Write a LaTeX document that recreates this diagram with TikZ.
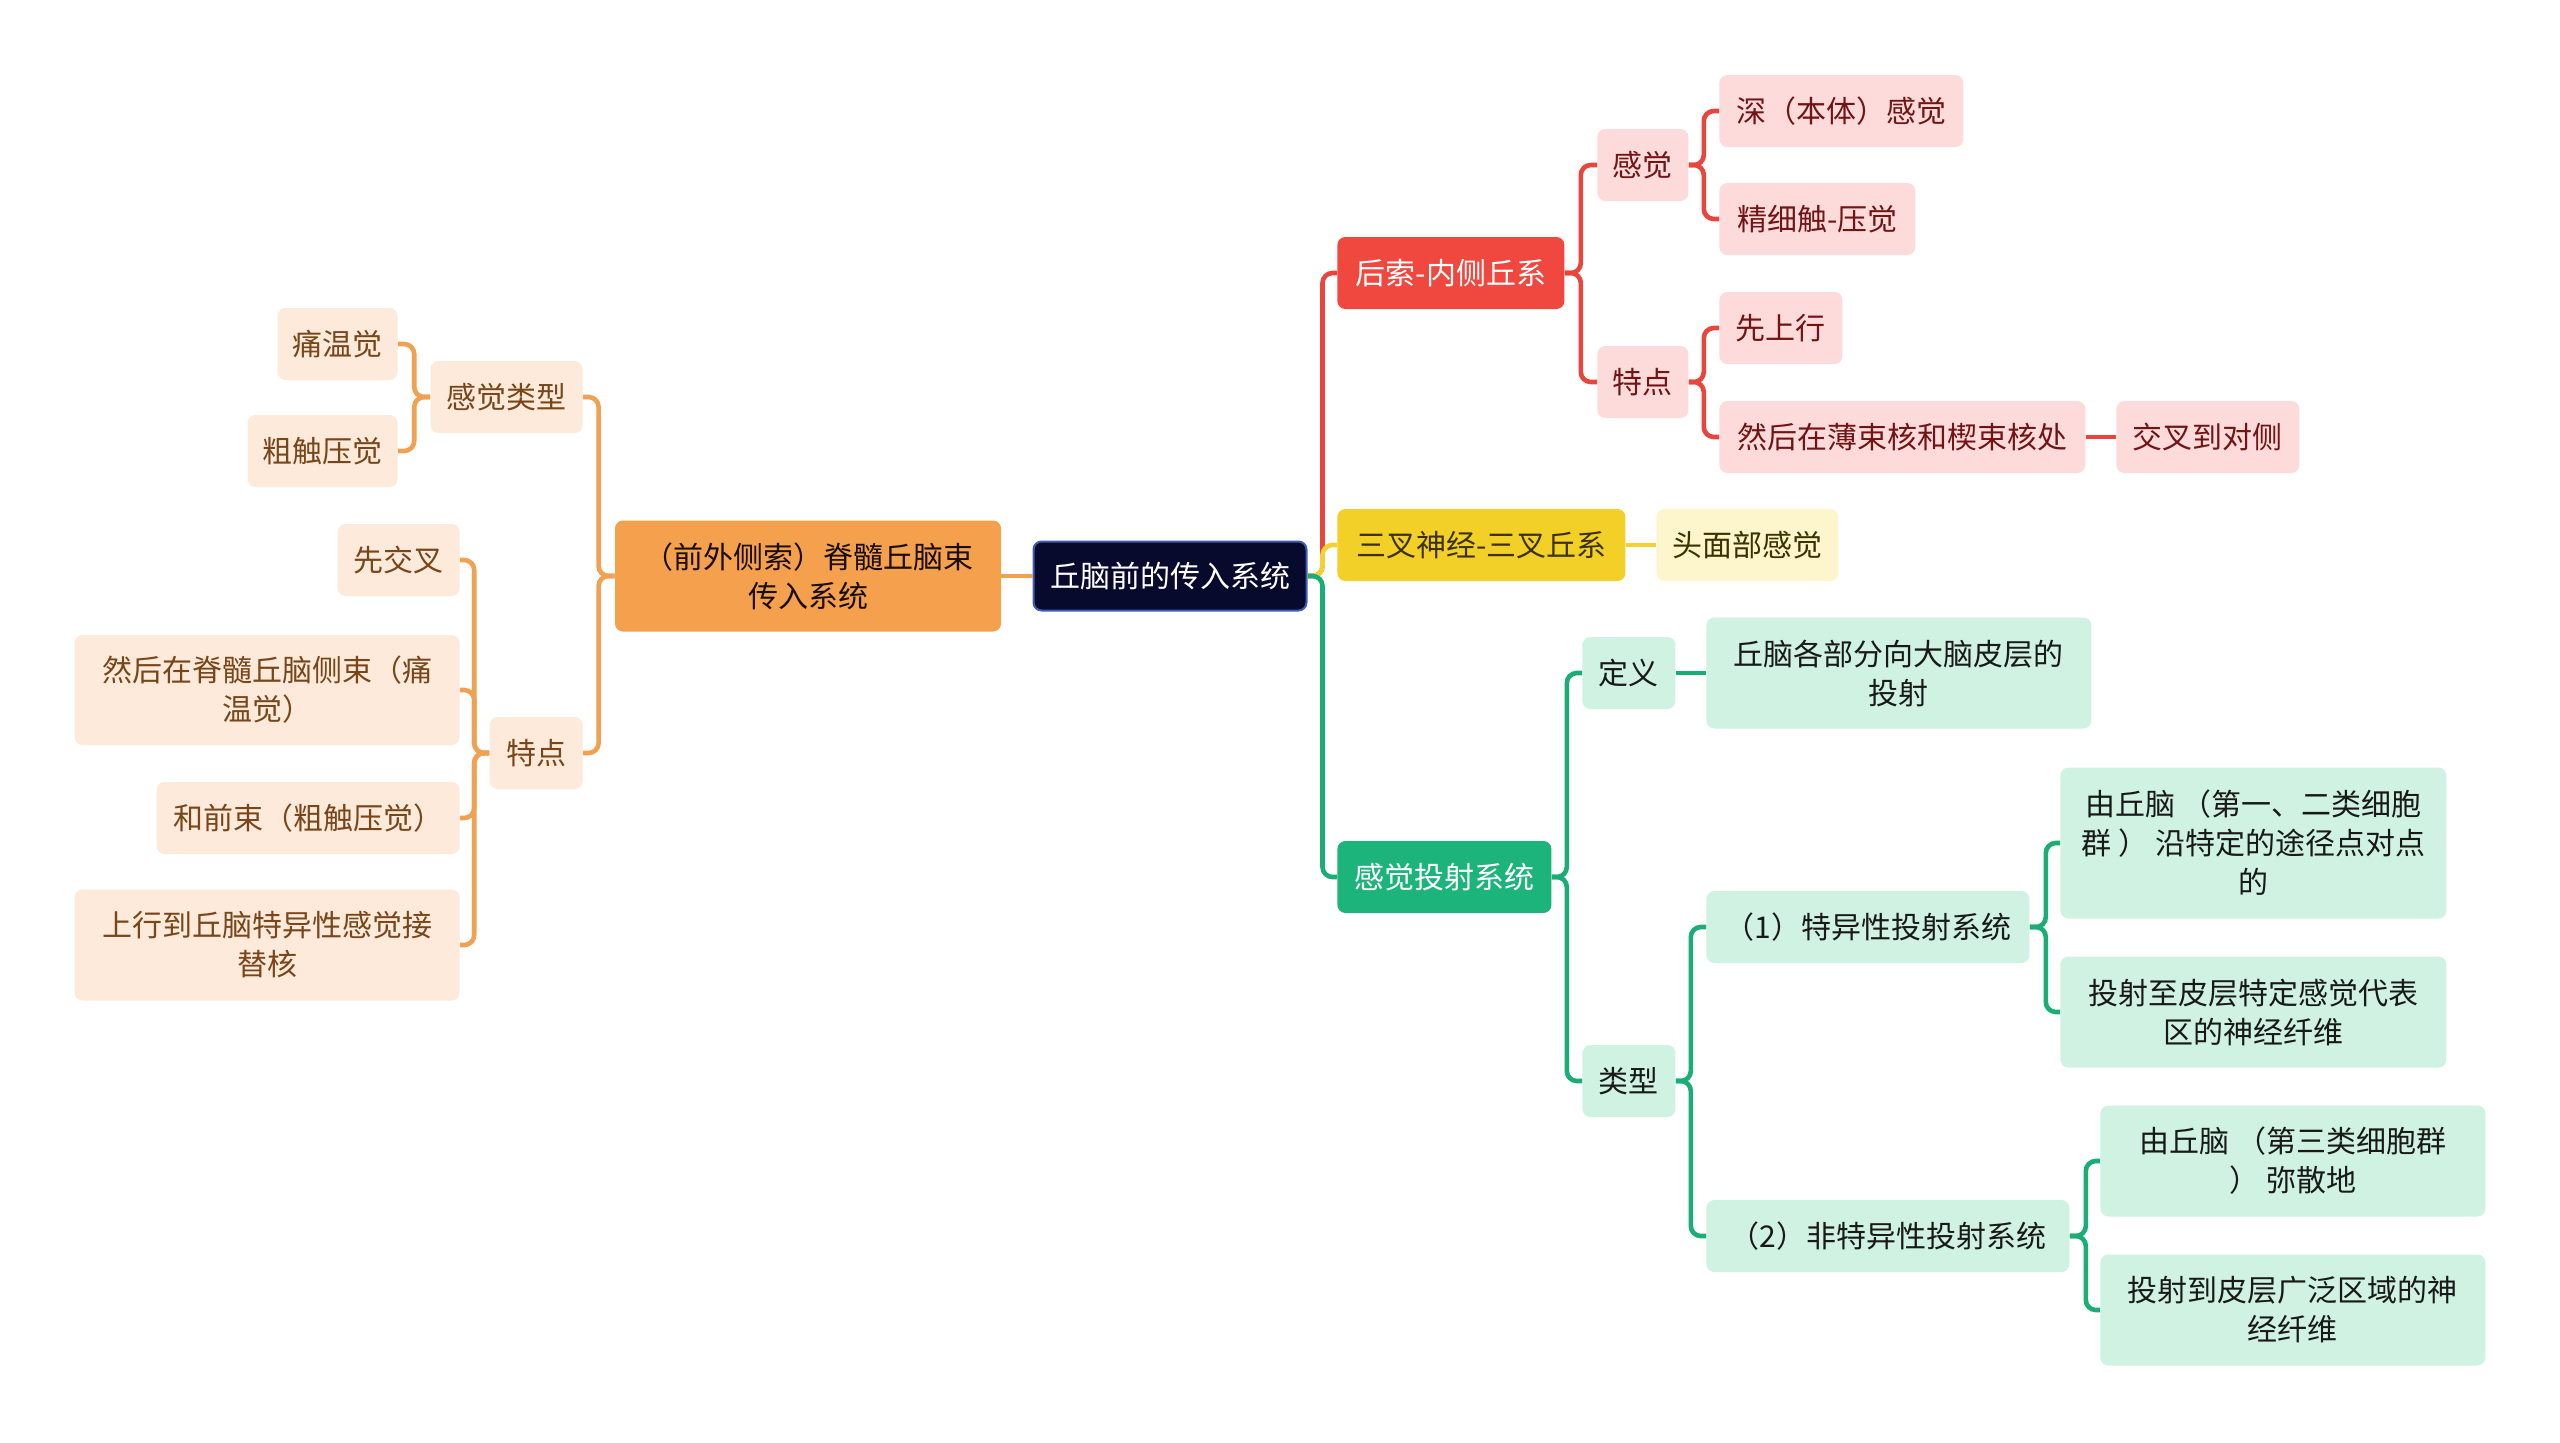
\documentclass[tikz,border=0pt]{standalone}
\usepackage{fontspec}
\newfontfamily\cjk{Noto Sans CJK SC}
\definecolor{navy}{RGB}{8,10,45}
\definecolor{navyb}{RGB}{60,95,180}
\definecolor{orgM}{RGB}{245,160,76}
\definecolor{orgL}{RGB}{253,234,218}
\definecolor{orgT}{RGB}{120,70,25}
\definecolor{orgLine}{RGB}{240,162,82}
\definecolor{redM}{RGB}{240,72,62}
\definecolor{redL}{RGB}{253,219,219}
\definecolor{redT}{RGB}{115,20,20}
\definecolor{redLine}{RGB}{232,70,60}
\definecolor{yelM}{RGB}{242,208,40}
\definecolor{yelL}{RGB}{253,246,204}
\definecolor{yelT}{RGB}{60,50,0}
\definecolor{yelLine}{RGB}{240,210,50}
\definecolor{grnM}{RGB}{28,180,122}
\definecolor{grnL}{RGB}{207,242,226}
\definecolor{grnT}{RGB}{25,25,25}
\definecolor{grnLine}{RGB}{26,174,118}
\begin{document}
\begin{tikzpicture}[x=0.5pt,y=-0.5pt,
  nd/.style={rounded corners=4pt, inner sep=0pt, align=center,
    font=\cjk\fontsize{15}{19.5}\selectfont, minimum height=36pt},
  cen/.style={nd, fill=navy, draw=navyb, line width=1pt, text=white},
  om/.style={nd, fill=orgM, text=black!80!orgT},
  ol/.style={nd, fill=orgL, text=orgT},
  rm/.style={nd, fill=redM, text=white},
  rl/.style={nd, fill=redL, text=redT},
  ym/.style={nd, fill=yelM, text=yelT},
  yl/.style={nd, fill=yelL, text=yelT},
  gm/.style={nd, fill=grnM, text=white},
  gl/.style={nd, fill=grnL, text=grnT},
  ln/.style={line width=2.3pt, rounded corners=5pt},
]
\useasboundingbox (0,0) rectangle (2560,1442);
\fill[white] (0,0) rectangle (2560,1442);

% center
\node[cen, minimum width=136.5pt, minimum height=34.5pt] (c) at (1170,576) {丘脑前的传入系统};

% left side
\node[om, minimum width=193pt, minimum height=55.5pt] (o) at (808,576) {（前外侧索）脊髓丘脑束\\传入系统};
\node[ol, anchor=east, minimum width=76pt] (ot) at (583,397) {感觉类型};
\node[ol, anchor=east, minimum width=46.5pt] (of) at (583,753) {特点};
\node[ol, anchor=east, minimum width=60pt] (ot1) at (398,344) {痛温觉};
\node[ol, anchor=east, minimum width=75pt] (ot2) at (398,451) {粗触压觉};
\node[ol, anchor=east, minimum width=61pt] (of1) at (460,560) {先交叉};
\node[ol, anchor=east, minimum width=192.5pt, minimum height=55pt] (of2) at (460,690) {然后在脊髓丘脑侧束（痛\\温觉）};
\node[ol, anchor=east, minimum width=151.5pt] (of3) at (460,818) {和前束（粗触压觉）};
\node[ol, anchor=east, minimum width=192.5pt, minimum height=55.5pt] (of4) at (460,945) {上行到丘脑特异性感觉接\\替核};

% right side: red
\node[rm, anchor=west, minimum width=113.5pt] (r) at (1337,273) {后索-内侧丘系};
\node[rl, anchor=west, minimum width=45.5pt] (rs) at (1597,165) {感觉};
\node[rl, anchor=west, minimum width=45.5pt] (rf) at (1597,382) {特点};
\node[rl, anchor=west, minimum width=122pt] (rs1) at (1719,111) {深（本体）感觉};
\node[rl, anchor=west, minimum width=98pt] (rs2) at (1719,219) {精细触-压觉};
\node[rl, anchor=west, minimum width=61.5pt] (rf1) at (1719,328) {先上行};
\node[rl, anchor=west, minimum width=183pt] (rf2) at (1719,437) {然后在薄束核和楔束核处};
\node[rl, anchor=west, minimum width=91.5pt] (rf3) at (2116,437) {交叉到对侧};

% yellow
\node[ym, anchor=west, minimum width=144pt] (y) at (1337,545) {三叉神经-三叉丘系};
\node[yl, anchor=west, minimum width=91pt] (y1) at (1656,545) {头面部感觉};

% green
\node[gm, anchor=west, minimum width=107pt] (g) at (1337,877) {感觉投射系统};
\node[gl, anchor=west, minimum width=46.5pt] (gd) at (1582,673) {定义};
\node[gl, anchor=west, minimum width=192.5pt, minimum height=55.5pt] (gd1) at (1706,673) {丘脑各部分向大脑皮层的\\投射};
\node[gl, anchor=west, minimum width=46.5pt] (gt) at (1582,1081) {类型};
\node[gl, anchor=west, minimum width=161.5pt] (g1) at (1706,927) {（1）特异性投射系统};
\node[gl, anchor=west, minimum width=181.5pt] (g2) at (1706,1236) {（2）非特异性投射系统};
\node[gl, anchor=west, minimum width=193pt, minimum height=75.5pt] (g11) at (2060,843) {由丘脑 （第一、二类细胞\\群 ） 沿特定的途径点对点\\的};
\node[gl, anchor=west, minimum width=193pt, minimum height=55.5pt] (g12) at (2060,1012) {投射至皮层特定感觉代表\\区的神经纤维};
\node[gl, anchor=west, minimum width=192.5pt, minimum height=55.5pt] (g21) at (2100,1161) {由丘脑 （第三类细胞群\\） 弥散地};
\node[gl, anchor=west, minimum width=192.5pt, minimum height=55.5pt] (g22) at (2100,1310) {投射到皮层广泛区域的神\\经纤维};

% connectors left
\draw[ln, orgLine] (c.west) -- (o.east);
\foreach \t in {ot,of} \draw[ln, orgLine] (o.west) -- ++(-16,0) |- (\t.east);
\foreach \t in {ot1,ot2} \draw[ln, orgLine] (ot.west) -- ++(-16,0) |- (\t.east);
\foreach \t in {of1,of2,of3,of4} \draw[ln, orgLine] (of.west) -- ++(-15,0) |- (\t.east);

% connectors right
\draw[ln, redLine] (c.east) -- ++(15,0) |- (r.west);
\draw[ln, yelLine] (c.east) -- ++(15,0) |- (y.west);
\draw[ln, grnLine] (c.east) -- ++(15,0) |- (g.west);
\foreach \t in {rs,rf} \draw[ln, redLine] (r.east) -- ++(16,0) |- (\t.west);
\foreach \t in {rs1,rs2} \draw[ln, redLine] (rs.east) -- ++(15,0) |- (\t.west);
\foreach \t in {rf1,rf2} \draw[ln, redLine] (rf.east) -- ++(15,0) |- (\t.west);
\draw[ln, redLine] (rf2.east) -- (rf3.west);
\draw[ln, yelLine] (y.east) -- (y1.west);
\foreach \t in {gd,gt} \draw[ln, grnLine] (g.east) -- ++(15,0) |- (\t.west);
\draw[ln, grnLine] (gd.east) -- (gd1.west);
\foreach \t in {g1,g2} \draw[ln, grnLine] (gt.east) -- ++(15,0) |- (\t.west);
\foreach \t in {g11,g12} \draw[ln, grnLine] (g1.east) -- ++(16,0) |- (\t.west);
\foreach \t in {g21,g22} \draw[ln, grnLine] (g2.east) -- ++(16,0) |- (\t.west);
\end{tikzpicture}
\end{document}
